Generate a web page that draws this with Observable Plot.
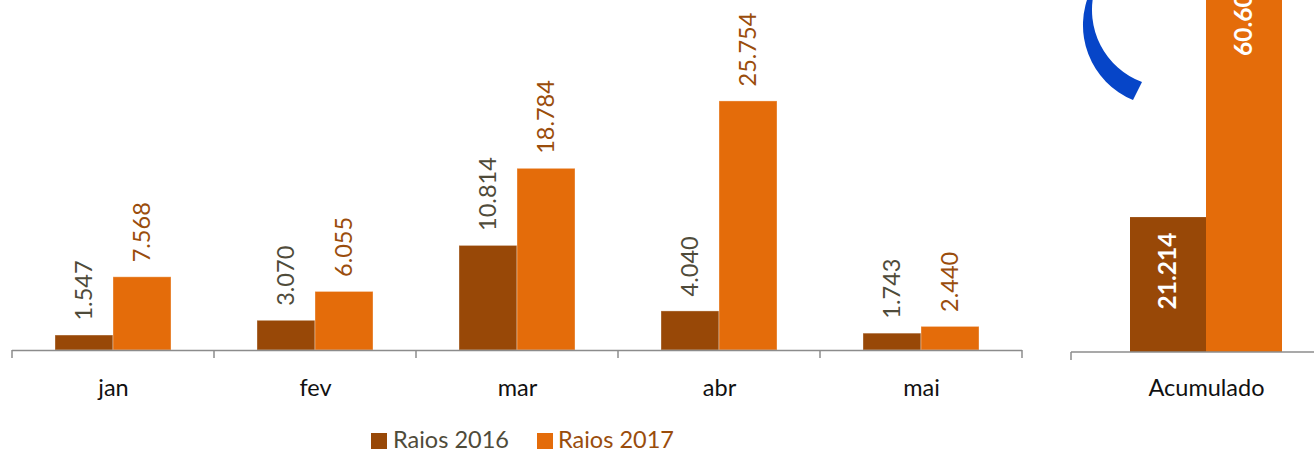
<!DOCTYPE html>
<html>
<head>
<meta charset="utf-8">
<script src="https://cdn.jsdelivr.net/npm/d3@7"></script>
<script src="https://cdn.jsdelivr.net/npm/@observablehq/plot@0.6"></script>
<style>
  html, body { margin: 0; padding: 0; background: #fff; }
  #wrap { position: relative; width: 1314px; height: 452px; overflow: hidden; font-family: Lato, sans-serif; }
  #left { position: absolute; left: 0; top: 0; }
  #right { position: absolute; left: 1040px; top: 0; }
  #legend { position: absolute; left: 0; top: 424px; width: 1314px; height: 28px; font-size: 23.5px; }
  .sw { position: absolute; top: 9px; width: 16px; height: 16px; }
  .lt { position: absolute; top: 1px; line-height: 28px; white-space: nowrap; }
</style>
</head>
<body>
<div id="wrap">
  <div id="left"></div>
  <div id="right"></div>
  <div id="legend"></div>
</div>
<script>
// ---- data ----
const months = ["jan", "fev", "mar", "abr", "mai"];
const raios2016 = [1547, 3070, 10814, 4040, 1743];
const raios2017 = [7568, 6055, 18784, 25754, 2440];
const accCategory = ["Acumulado"];
const acc2016 = [21214];
const acc2017 = [60601];
const seriesNames = ["Raios 2016", "Raios 2017"];

// ---- styles ----
const c2016 = "#984807";
const c2017 = "#E46C0A";
const label2016 = "#4f4b3a";
const label2017 = "#9a4d0c";
const axisColor = "#8c8c8c";
const fontFamily = "Lato, sans-serif";

const pt = d3.formatLocale({decimal: ",", thousands: ".", grouping: [3], currency: ["R$", ""]});
const fmt = pt.format(",d");

const monthly = months.map((m, i) => ({cat: m, a: raios2016[i], b: raios2017[i]}));
const accum = accCategory.map((c, i) => ({cat: c, a: acc2016[i], b: acc2017[i]}));

// band-boundary tick marks drawn from the plot layout
function boundaryTicks(n) {
  return (index, scales, values, dim) => {
    const g = d3.create("svg:g");
    const pw = dim.width - dim.marginLeft - dim.marginRight;
    const y0 = dim.height - dim.marginBottom;
    for (let i = 0; i <= n; i++) {
      const x = dim.marginLeft + i * pw / n;
      g.append("line").attr("x1", x).attr("x2", x).attr("y1", y0).attr("y2", y0 + 8)
        .attr("stroke", axisColor).attr("stroke-width", 1.5);
    }
    return g.node();
  };
}

// ---- left panel (monthly) ----
{
  const width = 1040, height = 420, baseline = 350;
  const bw = (1022 - 12) / months.length;
  const barW = 58;
  const off = bw / 2 - barW; // 43
  const plot = Plot.plot({
    width, height,
    marginLeft: 12, marginRight: width - 1022, marginTop: 0, marginBottom: height - baseline,
    style: {fontFamily, background: "transparent", overflow: "visible"},
    x: {domain: months, padding: 0, label: null},
    y: {domain: [0, 36190], axis: null},
    marks: [
      Plot.barY(monthly, {x: "cat", y: "a", fill: c2016, insetLeft: off, insetRight: bw / 2, stroke: "#fff", strokeOpacity: 0.35, strokeWidth: 1}),
      Plot.barY(monthly, {x: "cat", y: "b", fill: c2017, insetLeft: bw / 2, insetRight: off, stroke: "#fff", strokeOpacity: 0.35, strokeWidth: 1}),
      Plot.ruleY([0], {stroke: axisColor, strokeWidth: 1.5}),
      boundaryTicks(months.length),
      Plot.axisX({tickSize: 0, tickPadding: 29, fontSize: 23.5, fill: "#111", label: null}),
      Plot.text(monthly, {x: "cat", y: "a", text: d => fmt(d.a), rotate: -90, textAnchor: "start", lineAnchor: "middle", dx: -(barW / 2), dy: -15, fill: label2016, fontSize: 23.5}),
      Plot.text(monthly, {x: "cat", y: "b", text: d => fmt(d.b), rotate: -90, textAnchor: "start", lineAnchor: "middle", dx: (barW / 2), dy: -15, fill: label2017, fontSize: 23.5})
    ]
  });
  document.getElementById("left").appendChild(plot);
}

// ---- right panel (accumulated) ----
{
  const width = 274, height = 420, baseline = 352;
  const left = 1071 - 1040, right = 1341 - 1040;
  const bw = right - left; // 270
  const barW = 76;
  const off = bw / 2 - barW; // 59
  const plot = Plot.plot({
    width, height,
    marginLeft: 0, marginRight: 0, marginTop: 0, marginBottom: height - baseline,
    style: {fontFamily, background: "transparent"},
    x: {domain: accCategory, padding: 0, range: [left, right], label: null},
    y: {domain: [0, 55350], axis: null},
    marks: [
      Plot.barY(accum, {x: "cat", y: "a", fill: c2016, insetLeft: off, insetRight: bw / 2}),
      Plot.barY(accum, {x: "cat", y: "b", fill: c2017, insetLeft: bw / 2, insetRight: off}),
      (index, scales, values, dim) => {
        const g = d3.create("svg:g");
        const y0 = dim.height - dim.marginBottom;
        g.append("line").attr("x1", left).attr("x2", width).attr("y1", y0).attr("y2", y0)
          .attr("stroke", axisColor).attr("stroke-width", 1.5);
        g.append("line").attr("x1", left).attr("x2", left).attr("y1", y0).attr("y2", y0 + 8)
          .attr("stroke", axisColor).attr("stroke-width", 1.5);
        // blue annotation crescent (decoration)
        g.append("path")
          .attr("d", "M 51 -10 A 81 81 0 0 0 93 100 L 102 82 A 77 77 0 0 1 54.6 -10 Z")
          .attr("fill", "#0645C8");
        return g.node();
      },
      Plot.axisX({tickSize: 0, tickPadding: 27, fontSize: 23.5, fill: "#111", label: null}),
      Plot.text(accum, {x: "cat", y: "a", text: d => fmt(d.a), rotate: -90, textAnchor: "end", lineAnchor: "middle", dx: -(barW / 2), dy: 15, fill: "#fff", fontSize: 24.5, fontWeight: "bold"}),
      Plot.text(accum, {x: "cat", y: "b", text: d => fmt(d.b), rotate: -90, textAnchor: "end", lineAnchor: "middle", dx: (barW / 2), dy: 12, fill: "#fff", fontSize: 24.5, fontWeight: "bold"})
    ]
  });
  document.getElementById("right").appendChild(plot);
}

// ---- legend ----
{
  const leg = document.getElementById("legend");
  const items = [
    {name: seriesNames[0], color: c2016, text: label2016, sx: 371, tx: 393},
    {name: seriesNames[1], color: c2017, text: label2017, sx: 537, tx: 558}
  ];
  for (const it of items) {
    const s = document.createElement("div");
    s.className = "sw"; s.style.left = it.sx + "px"; s.style.background = it.color;
    leg.appendChild(s);
    const t = document.createElement("div");
    t.className = "lt"; t.style.left = it.tx + "px"; t.style.color = it.text; t.textContent = it.name;
    leg.appendChild(t);
  }
}
</script>
</body>
</html>
